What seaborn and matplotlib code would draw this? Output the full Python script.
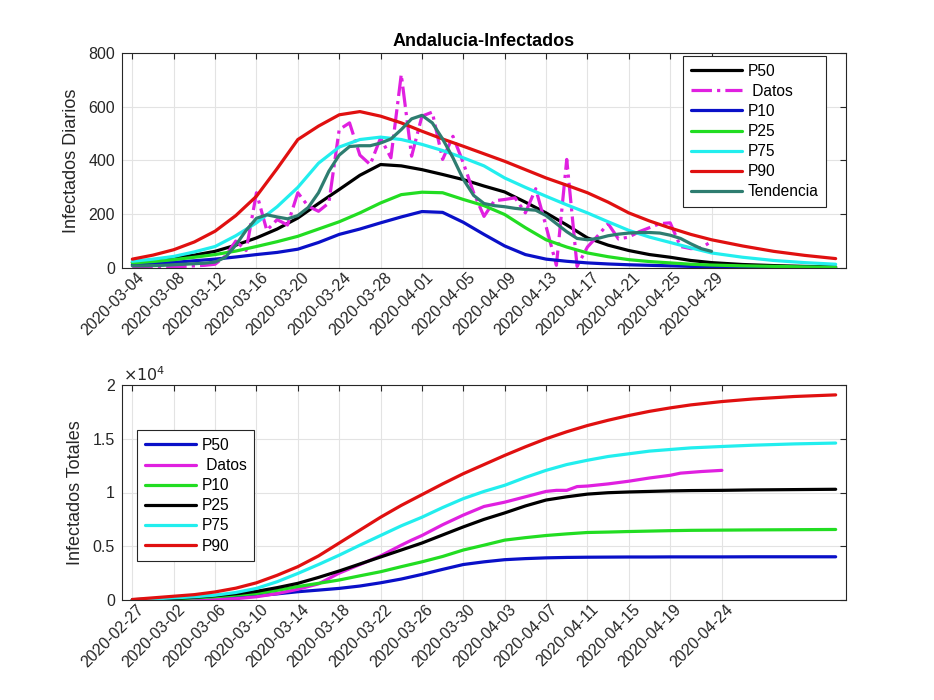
import numpy as np
import pandas as pd
import matplotlib
matplotlib.use('Agg')
import matplotlib.pyplot as plt
import matplotlib.transforms as mtransforms
import seaborn as sns
from matplotlib.ticker import FuncFormatter

# ---------------- data: daily infected (top) ----------------
top_idx = [1, 3, 5, 7, 9, 11, 13, 15, 17, 19, 21, 23, 25, 27, 29, 31, 33, 35, 37, 39,
           41, 43, 45, 47, 49, 51, 53, 55, 57, 60, 63, 66, 69]
top_p50 = [21, 28, 37, 48, 62, 85, 112, 145, 186, 240, 292, 345, 385, 380, 366, 348, 329, 305, 283, 245,
           205, 160, 112, 85, 65, 50, 40, 28, 20, 13, 9, 6, 4]
top_p10 = [12, 16, 21, 27, 33, 41, 50, 58, 70, 95, 125, 145, 168, 190, 210, 207, 170, 125, 82, 50,
           33, 25, 19, 15, 12, 10, 8, 6, 5, 4, 3, 3, 2]
top_p25 = [19, 24, 31, 40, 50, 63, 80, 98, 118, 145, 172, 205, 242, 273, 282, 280, 255, 232, 199, 150,
           105, 78, 56, 42, 31, 24, 19, 14, 11, 8, 6, 4, 3]
top_p75 = [25, 33, 43, 60, 80, 120, 168, 228, 300, 390, 450, 478, 487, 478, 460, 437, 410, 380, 335, 300,
           267, 235, 205, 172, 140, 115, 95, 75, 56, 40, 28, 20, 14]
top_p90 = [33, 48, 68, 97, 137, 195, 267, 370, 478, 528, 570, 582, 565, 540, 509, 480, 453, 425, 397, 366,
           335, 308, 280, 245, 205, 175, 149, 125, 105, 82, 62, 47, 35]

datos_idx = list(range(1, 58))
datos_diarios = [0, 1, 2, 3, 5, 6, 8, 10, 14, 45, 100, 65, 280, 140, 180, 160, 280, 230, 211, 242,
                 515, 540, 420, 385, 484, 410, 720, 416, 565, 580, 404, 490, 391, 280, 192, 250, 255, 261, 205, 295,
                 155, 10, 404, 6, 78, 120, 165, 108, 115, 135, 150, 165, 168, 80, 72, 75, 99]
tendencia = [8, 8, 9, 10, 12, 14, 16, 18, 22, 40, 85, 140, 185, 198, 190, 183, 195, 225, 280, 360,
             420, 452, 455, 455, 465, 480, 515, 555, 568, 540, 480, 410, 330, 270, 240, 232, 228, 222, 218, 215,
             195, 165, 135, 110, 105, 110, 120, 126, 130, 132, 132, 130, 122, 110, 90, 72, 62]

top_tick_idx = list(range(1, 58, 4))
top_tick_labels = ['2020-03-04', '2020-03-08', '2020-03-12', '2020-03-16', '2020-03-20', '2020-03-24',
                   '2020-03-28', '2020-04-01', '2020-04-05', '2020-04-09', '2020-04-13', '2020-04-17',
                   '2020-04-21', '2020-04-25', '2020-04-29']

# ---------------- data: cumulative infected (bottom, units of 1e4) ----------------
bot_idx = [1, 3, 5, 7, 9, 11, 13, 15, 17, 19, 21, 23, 25, 27, 29, 31, 33, 35, 37, 39,
           41, 43, 45, 47, 49, 51, 53, 55, 58, 61, 65, 69]
bot_p50 = [0.002, 0.004, 0.007, 0.012, 0.02, 0.03, 0.04, 0.057, 0.077, 0.092, 0.108, 0.13, 0.16, 0.195,
           0.238, 0.285, 0.33, 0.355, 0.375, 0.385, 0.392, 0.396, 0.398, 0.399, 0.40, 0.40, 0.401, 0.401,
           0.401, 0.402, 0.402, 0.402]
bot_p10 = [0.002, 0.005, 0.01, 0.02, 0.03, 0.045, 0.06, 0.09, 0.125, 0.155, 0.186, 0.225, 0.263, 0.31,
           0.355, 0.405, 0.465, 0.51, 0.557, 0.58, 0.60, 0.615, 0.628, 0.632, 0.637, 0.641, 0.645, 0.648,
           0.65, 0.652, 0.654, 0.656]
bot_p25 = [0.003, 0.008, 0.015, 0.025, 0.04, 0.058, 0.08, 0.115, 0.155, 0.21, 0.27, 0.335, 0.40, 0.465,
           0.53, 0.605, 0.68, 0.75, 0.81, 0.875, 0.93, 0.96, 0.985, 0.998, 1.005, 1.01, 1.015, 1.018,
           1.02, 1.024, 1.027, 1.03]
bot_p75 = [0.003, 0.01, 0.02, 0.03, 0.045, 0.07, 0.108, 0.17, 0.247, 0.33, 0.417, 0.51, 0.60, 0.69,
           0.77, 0.86, 0.943, 1.01, 1.067, 1.14, 1.206, 1.26, 1.30, 1.335, 1.36, 1.385, 1.40, 1.415,
           1.428, 1.44, 1.452, 1.46]
bot_p90 = [0.005, 0.02, 0.035, 0.05, 0.075, 0.11, 0.16, 0.23, 0.31, 0.41, 0.53, 0.65, 0.77, 0.88,
           0.98, 1.08, 1.175, 1.26, 1.345, 1.425, 1.50, 1.565, 1.623, 1.672, 1.716, 1.755, 1.787, 1.815,
           1.846, 1.87, 1.893, 1.908]
datos_tot_idx = [1, 5, 9, 11, 13, 15, 17, 19, 20, 21, 23, 25, 27, 28, 29, 31, 33, 35, 37, 39,
                 41, 42, 43, 44, 45, 47, 49, 51, 53, 54, 56, 58]
datos_totales = [0, 0.002, 0.006, 0.012, 0.03, 0.06, 0.10, 0.15, 0.20, 0.25, 0.33, 0.41, 0.51, 0.557,
                 0.60, 0.70, 0.79, 0.87, 0.91, 0.96, 1.01, 1.02, 1.02, 1.055, 1.06, 1.08, 1.105, 1.135,
                 1.16, 1.18, 1.195, 1.206]
SCALE = 1e4

bot_tick_idx = list(range(1, 54, 4)) + [58]
bot_tick_labels = ['2020-02-27', '2020-03-02', '2020-03-06', '2020-03-10', '2020-03-14', '2020-03-18',
                   '2020-03-22', '2020-03-26', '2020-03-30', '2020-04-03', '2020-04-07', '2020-04-11',
                   '2020-04-15', '2020-04-19', '2020-04-24']

# ---------------- style ----------------
sns.set_theme(style='white')
plt.rcParams['font.family'] = ['Liberation Sans', 'DejaVu Sans']
plt.rcParams['axes.unicode_minus'] = False

C_BLACK = '#000000'
C_MAG = '#E020E0'
C_BLUE = '#0A10C8'
C_GREEN = '#22DD22'
C_CYAN = '#22EEEE'
C_RED = '#E01010'
C_TEAL = '#2E7D70'
LW = 2.3
TXT = '#262626'

fig = plt.figure(figsize=(9.34, 7.0), dpi=100)
ax1 = fig.add_axes([122 / 934, 1 - 268 / 700, 724 / 934, 215 / 700])
ax2 = fig.add_axes([122 / 934, 1 - 600 / 700, 724 / 934, 215 / 700])
shift = mtransforms.ScaledTranslation(9 / 100, 0, fig.dpi_scale_trans)


def style_axes(ax):
    ax.grid(True, color='#E3E3E3', linewidth=0.8)
    ax.set_axisbelow(True)
    for s in ax.spines.values():
        s.set_color(TXT)
        s.set_linewidth(0.8)
    ax.tick_params(direction='in', length=4, width=0.8, color=TXT, labelcolor=TXT,
                   top=True, right=True, labelsize=11.5, pad=5)
    ax.set_xlim(0, 70)


def date_ticks(ax, pos, labels):
    ax.set_xticks(pos)
    ax.set_xticklabels(labels, rotation=45, ha='right', va='center', rotation_mode='anchor')
    for lab in ax.get_xticklabels():
        lab.set_transform(lab.get_transform() + shift)


def make_legend(ax, anchor, loc):
    leg = ax.legend(loc=loc, bbox_to_anchor=anchor, fontsize=11.2, handlelength=3.3,
                    fancybox=False, framealpha=1, edgecolor=TXT, borderpad=0.5, labelspacing=0.33,
                    handletextpad=0.35, borderaxespad=0)
    leg.get_frame().set_linewidth(0.8)
    for t in leg.get_texts():
        t.set_color('#000000')
    return leg


# ---- top ----
sns.lineplot(x=top_idx, y=top_p50, ax=ax1, color=C_BLACK, linewidth=LW, label='P50')
sns.lineplot(x=datos_idx, y=datos_diarios, ax=ax1, color=C_MAG, linewidth=LW, linestyle='-.', label=' Datos')
sns.lineplot(x=top_idx, y=top_p10, ax=ax1, color=C_BLUE, linewidth=LW, label='P10')
sns.lineplot(x=top_idx, y=top_p25, ax=ax1, color=C_GREEN, linewidth=LW, label='P25')
sns.lineplot(x=top_idx, y=top_p75, ax=ax1, color=C_CYAN, linewidth=LW, label='P75')
sns.lineplot(x=top_idx, y=top_p90, ax=ax1, color=C_RED, linewidth=LW, label='P90')
sns.lineplot(x=datos_idx, y=tendencia, ax=ax1, color=C_TEAL, linewidth=LW, label='Tendencia')
style_axes(ax1)
ax1.set_ylim(0, 800)
ax1.set_yticks([0, 200, 400, 600, 800])
date_ticks(ax1, top_tick_idx, top_tick_labels)
ax1.set_ylabel('Infectados Diarios', fontsize=13, color=TXT, labelpad=6)
ax1.set_xlabel('')
ax1.set_title('Andalucia-Infectados', fontsize=13, fontweight='bold', color='#000000', pad=5)
make_legend(ax1, (0.973, 0.987), 'upper right')

# ---- bottom ----
sns.lineplot(x=bot_idx, y=np.array(bot_p50) * SCALE, ax=ax2, color=C_BLUE, linewidth=LW, label='P50')
sns.lineplot(x=datos_tot_idx, y=np.array(datos_totales) * SCALE, ax=ax2, color=C_MAG, linewidth=LW, label=' Datos')
sns.lineplot(x=bot_idx, y=np.array(bot_p10) * SCALE, ax=ax2, color=C_GREEN, linewidth=LW, label='P10')
sns.lineplot(x=bot_idx, y=np.array(bot_p25) * SCALE, ax=ax2, color=C_BLACK, linewidth=LW, label='P25')
sns.lineplot(x=bot_idx, y=np.array(bot_p75) * SCALE, ax=ax2, color=C_CYAN, linewidth=LW, label='P75')
sns.lineplot(x=bot_idx, y=np.array(bot_p90) * SCALE, ax=ax2, color=C_RED, linewidth=LW, label='P90')
style_axes(ax2)
ax2.set_ylim(0, 20000)
ax2.set_yticks([0, 5000, 10000, 15000, 20000])
ax2.yaxis.set_major_formatter(FuncFormatter(lambda v, p: ('%g' % (v / SCALE))))
date_ticks(ax2, bot_tick_idx, bot_tick_labels)
ax2.set_ylabel('Infectados Totales', fontsize=13, color=TXT, labelpad=6)
ax2.set_xlabel('')
ax2.text(0.002, 1.005, r'$\times10^{4}$', transform=ax2.transAxes, fontsize=11.5, color=TXT,
         ha='left', va='bottom')
make_legend(ax2, (0.021, 0.79), 'upper left')

fig.savefig('out.png', dpi=100, facecolor='white')
